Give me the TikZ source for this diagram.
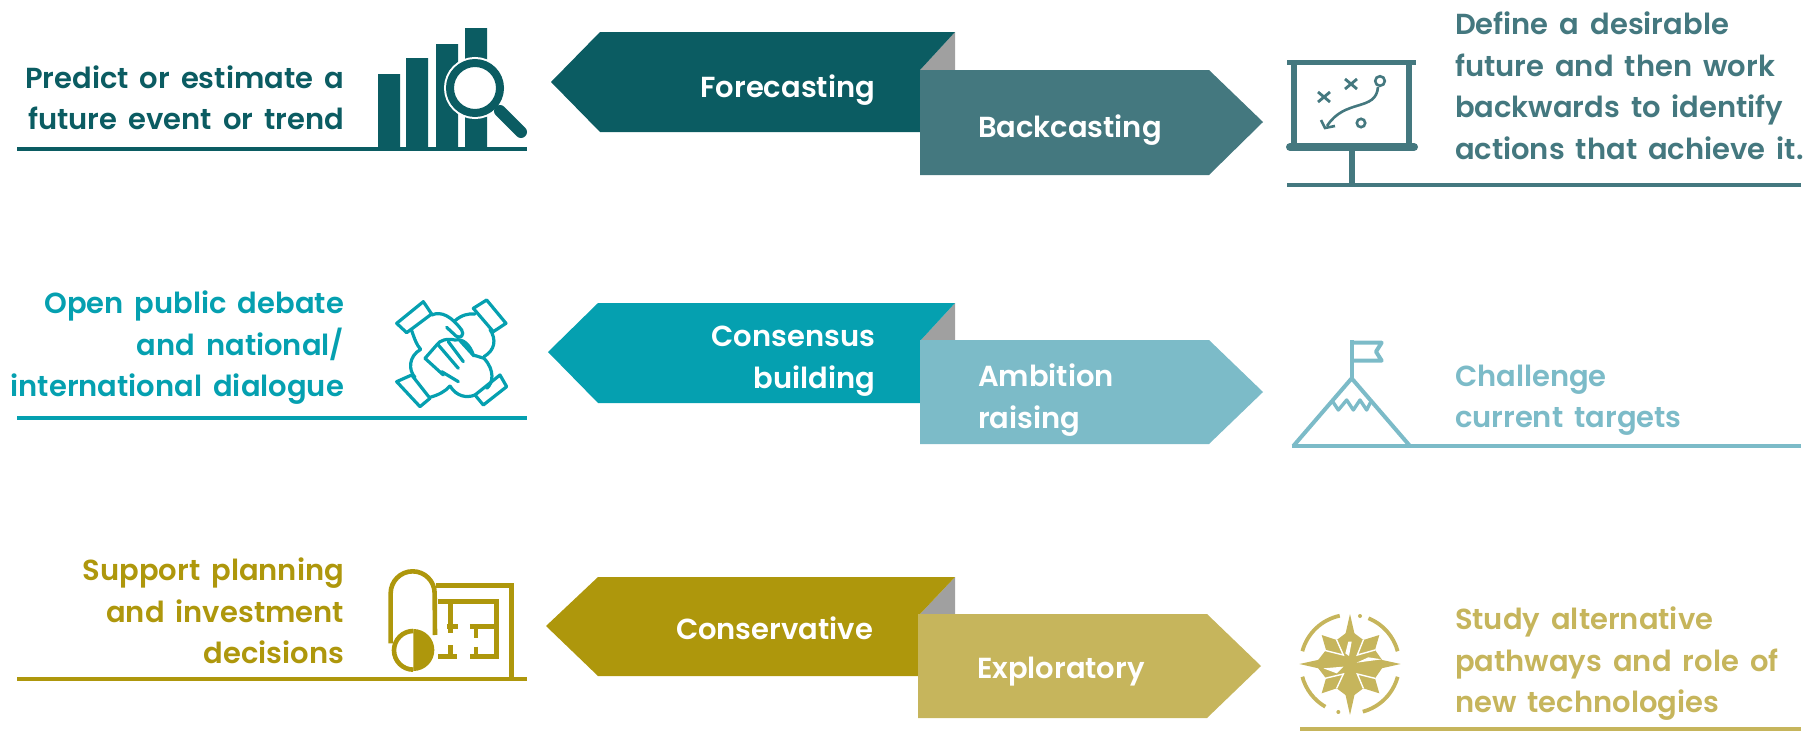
\documentclass[tikz,border=0pt]{standalone}
\usepackage{fontspec}
\setmainfont{Poppins}[BoldFont=Poppins SemiBold,WordSpace=1.6]
\definecolor{cA}{HTML}{0B5C62}
\definecolor{cB}{HTML}{44787F}
\definecolor{cC}{HTML}{05A0B0}
\definecolor{cD}{HTML}{7CBBC8}
\definecolor{cE}{HTML}{AE970C}
\definecolor{cF}{HTML}{C6B55C}
\definecolor{cG}{HTML}{A0A0A0}
\newcommand{\txtfont}{\fontsize{29}{41.5}\selectfont\bfseries}
\tikzset{
 x=1pt,y=-1pt,
 lbl/.style={font=\txtfont,inner sep=0pt,outer sep=0pt},
 lefttxt/.style={lbl,anchor=east,align=right},
 righttxt/.style={lbl,anchor=west,align=left},
 rule/.style={line width=4.5pt},
 zoomed/.style={x=0.3333pt,y=-0.3333pt},
}
\begin{document}
\begin{tikzpicture}
\useasboundingbox (0,0) rectangle (1809,731);
% row 1
\fill[cG] (955,32)--(920,70)--(955,70)--cycle;
\fill[cA] (551,82)--(600,32)--(955,32)--(920,70)--(920,132)--(600,132)--cycle;
\fill[cB] (920,70)--(1209,70)--(1263,122)--(1209,175)--(920,175)--cycle;
\node[lbl,text=white,anchor=east] (forecast) at (875,90) {Forecasting};
\node[lbl,text=white,anchor=west] (backcast) at (978,130) {Backcasting};
\node[lefttxt,text=cA] (t1) at (344,98) {Predict or estimate a\\future event or trend};
\node[righttxt,text=cB] (t2) at (1455,86) {Define a desirable\\future and then work\\backwards to identify\\actions that achieve it.};
\draw[rule,cA] (17,149)--(527,149);
\draw[rule,cB] (1287,185)--(1801,185);
% icon 1
\fill[cA] (378,74) rectangle (400,149) (406,58) rectangle (428,149) (436,44) rectangle (458,149) (465,28) rectangle (487,149);
\draw[white,line width=12pt] (475,88) circle (25);
\fill[white] (475,88) circle (22);
\draw[white,line width=16pt] (498,110)--(522,134);
\draw[cA,line width=8pt] (475,88) circle (25);
\draw[cA,line width=12pt,line cap=round] (500,111)--(521,132);
\draw[rule,cA] (378,149)--(527,149);
% icon 2
\draw[cB,line width=5pt] (1287,62)--(1416,62);
\draw[cB,line width=6pt] (1294,62)--(1294,146) (1409,62)--(1409,146) (1352,147)--(1352,185);
\draw[cB,line width=8pt,line cap=round] (1290,147)--(1414,147);
\draw[cB,line width=2.8pt] (1318,92)--(1330,102) (1330,92)--(1318,102) (1345,79)--(1357,89) (1357,79)--(1345,89);
\draw[cB,line width=2.6pt] (1380,81) circle (4.8) (1361,123) circle (4.2);
\draw[cB,line width=2.6pt] (1378,87) .. controls (1376,112) and (1345,98) .. (1327,126);
\draw[cB,line width=2.6pt] (1321,120)--(1325,128)--(1335,126);
% row 2
\fill[cG] (955,303)--(920,341)--(955,341)--cycle;
\fill[cC] (548,352)--(598,303)--(955,303)--(920,341)--(920,403)--(598,403)--cycle;
\fill[cD] (920,340)--(1209,340)--(1263,392)--(1209,444)--(920,444)--cycle;
\node[lefttxt,text=white] (consensus) at (875,361) {Consensus\\building};
\node[righttxt,text=white] (ambition) at (978,400) {Ambition\\raising};
\node[lefttxt,text=cC] (t3) at (344,348) {Open public debate\\and national/\\international dialogue};
\node[righttxt,text=cD] (t4) at (1455,400) {Challenge\\current targets};
\draw[rule,cC] (17,418)--(527,418);
\draw[rule,cD] (1292,446)--(1801,446);
% icon 3
\begin{scope}[shift={(380,290)},zoomed,cC,line width=3.2pt,line join=round,line cap=round]
\draw (50,100)--(130,35)--(155,72)--(80,128)--cycle;
\draw (280,55)--(320,30)--(378,100)--(340,125)--cycle;
\draw (50,275)--(95,255)--(150,325)--(120,350)--cycle;
\draw (285,315)--(360,255)--(380,290)--(310,345)--cycle;
\draw (95,122)..controls (105,150) and (110,165)..(122,178);
\draw (155,75)..controls (185,62) and (215,80)..(245,120)..controls (255,135) and (240,148)..(228,138)--(200,112);
\draw (225,92)..controls (245,75) and (265,70)..(285,72);
\draw (330,118)..controls (350,150) and (345,180)..(312,200);
\draw (122,178)..controls (85,200) and (85,240)..(105,262);
\draw (150,322)..controls (175,315) and (195,305)..(210,288);
\draw (135,205)--(170,165)..controls (180,150) and (200,145)..(225,150)..controls (250,145) and (270,165)..(280,195)--(312,205)..controls (345,240) and (340,280)..(320,295);
\draw (135,205)--(190,255);
\draw (175,165)--(235,235) (205,155)--(250,215) (240,152)--(282,198);
\draw (185,245)--(235,275) (210,288)..controls (230,320) and (260,325)..(285,315);
\end{scope}
% icon 4
\begin{scope}[shift={(1270,320)},zoomed,cD,line join=round]
\draw[line width=4pt] (70,378)--(245,175)--(420,378);
\draw[line width=4pt] (245,60)--(245,175);
\draw[line width=4pt] (245,68)--(335,68)--(318,95)--(335,122)--(245,122);
\draw[line width=3.4pt] (185,240)--(205,270)--(230,240)--(250,270)--(270,240)--(290,270)--(305,240);
\end{scope}
% row 3
\fill[cG] (955,577)--(920,614)--(955,614)--cycle;
\fill[cE] (546,626)--(598,577)--(955,577)--(920,614)--(920,676)--(598,676)--cycle;
\fill[cF] (918,614)--(1207,614)--(1261,666)--(1207,718)--(918,718)--cycle;
\node[lbl,text=white,anchor=east] (conservative) at (873,628) {Conservative};
\node[lbl,text=white,anchor=west] (exploratory) at (977,672) {Exploratory};
\node[lefttxt,text=cE] (t5) at (344,611) {Support planning\\and investment\\decisions};
\node[righttxt,text=cF] (t6) at (1455,664) {Study alternative\\pathways and role of\\new technologies};
\draw[rule,cE] (17,679)--(527,679);
\draw[rule,cF] (1300,729)--(1801,729);
% icon 5
\begin{scope}[shift={(370,555)},zoomed,cE,line join=miter]
\draw[line width=4.6pt] (62,265)--(62,115) arc[start angle=180,end angle=360,radius=66] --(195,240);
\draw[line width=4.6pt] (197,92)--(425,92)--(425,372);
\draw[line width=4.6pt] (205,140)--(380,140)--(380,305)--(300,305);
\draw[line width=4.6pt] (205,305)--(262,305);
\draw[line width=4.6pt] (242,140)--(242,235) (232,215)--(265,215) (242,270)--(242,305) (300,215)--(380,215) (318,215)--(318,250) (318,275)--(318,305);
\draw[line width=4.6pt] (130,228) arc[start angle=270,end angle=90,radius=58];
\fill (130,222) arc[start angle=270,end angle=450,radius=63] --cycle;
\end{scope}
% icon 6
\begin{scope}[shift={(1280,600)},zoomed,cF,line join=miter]
\fill (125,105)--(170,120)--(210,90)--(250,120)--(298,105)--(285,150)--(315,192)--(285,235)--(298,280)--(250,265)--(210,295)--(170,265)--(125,280)--(138,235)--(105,192)--(138,150)--cycle;
\fill (210,42)--(238,165)--(362,192)--(238,220)--(210,345)--(182,220)--(58,192)--(182,165)--cycle;
\fill[white] (205,125)--(196,160)--(207,168)--(215,125)--cycle (265,172)--(305,178)--(230,188)--cycle (130,205)--(190,200)--(170,220)--cycle;
\draw[white,line width=1.4pt] (170,120)--(190,165)--(130,150) (250,120)--(232,165)--(285,150) (170,265)--(190,222)--(135,235) (250,265)--(232,222)--(285,235);
\draw[line width=3.8pt] (210,192)++(-68:148) arc[start angle=-68,end angle=-15,radius=148];
\draw[line width=3.8pt] (210,192)++(-165:148) arc[start angle=-165,end angle=-102,radius=148];
\draw[line width=3.8pt] (210,192)++(120:148) arc[start angle=120,end angle=165,radius=148];
\draw[line width=3.8pt] (210,192)++(15:148) arc[start angle=15,end angle=75,radius=148];
\fill (240,48) circle (6) (175,336) circle (6);
\end{scope}
\end{tikzpicture}
\end{document}
